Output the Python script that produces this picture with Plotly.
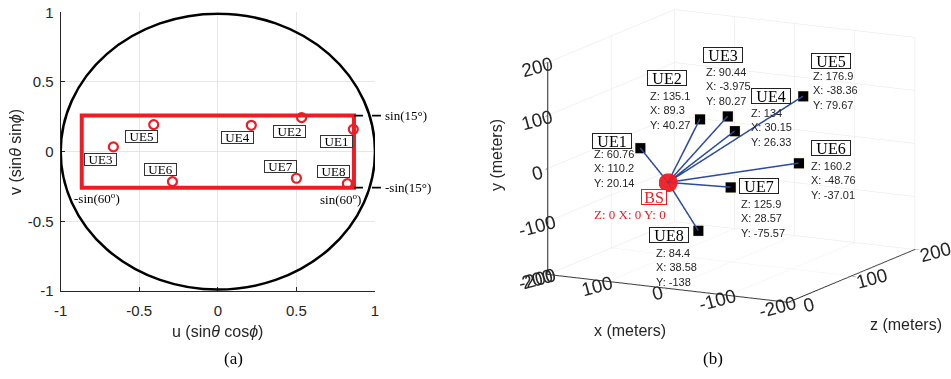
import math
import plotly.graph_objects as go

W, H = 951, 379

# ---------------- data: panel (a) ----------------
ue_names = ["UE1", "UE2", "UE3", "UE4", "UE5", "UE6", "UE7", "UE8"]
u_vals = [0.862, 0.533, -0.665, 0.213, -0.408, -0.289, 0.500, 0.824]
v_vals = [0.160, 0.244, 0.034, 0.189, 0.194, -0.215, -0.191, -0.230]
az_limit_deg = 60
el_limit_deg = 15
uv_ticks = [-1, -0.5, 0, 0.5, 1]
uv_ticktext = ["-1", "-0.5", "0", "0.5", "1"]

# ---------------- data: panel (b) ----------------
bs_xyz = (0, 0, 0)
ue_x = [110.2, 89.3, -3.975, 30.15, -38.36, -48.76, 28.57, 38.58]
ue_y = [20.14, 40.27, 80.27, 26.33, 79.67, -37.01, -75.57, -138]
ue_z = [60.76, 135.1, 90.44, 134, 176.9, 160.2, 125.9, 84.4]
xy_ticks = [-200, -100, 0, 100, 200]
xy_ticktext = ["-200", "-100", "0", "100", "200"]
z_ticks = [0, 100, 200]
z_ticktext = ["0", "100", "200"]

# ---------------- styles ----------------
SANS = "Liberation Sans"
SERIF = "Liberation Serif"
TXT = "#262626"
GRID = "#e6e6e6"
RED = "#ee1c24"
BLUE = "#2c4a9e"

# label offsets (pixels) for panel (a): label centre relative to point
a_lab_dx = [-17, -12, -13, -14, -12, -12, -16, -14]
a_lab_dy = [-12, -14, -13, -12, -12, 12, 12, 12]

# label offsets (pixels) for panel (b)
b_box_dx = [-28, -33, -4, 36, 28, 32, 29, -29]
b_box_dy = [7, 41, 61, 35, 35, 15, 1, -4]
b_txt_dx = [-48, -52, -23, 14, 8, 10, 9, -44]
b_txt_dy = [2, 31, 52, 26, 28, 5, -9, -14]

ax_x0, ax_x1 = 60.7 / W, 375 / W
ax_y0, ax_y1 = 1 - 291 / H, 1 - 12.3 / H


def px(xp, yp):
    return xp / W, 1 - yp / H


fig = go.Figure()

# ---- panel (a) ----
fig.add_trace(go.Scatter(
    x=u_vals, y=v_vals, mode="markers",
    marker=dict(symbol="circle-open", size=9, color=RED, line=dict(width=2.2, color=RED)),
    hoverinfo="skip", showlegend=False, xaxis="x", yaxis="y", cliponaxis=False))

s_az = math.sin(math.radians(az_limit_deg))
s_el = math.sin(math.radians(el_limit_deg))

shapes = [
    dict(type="circle", xref="x", yref="y", x0=-1, x1=1, y0=-0.99, y1=0.99,
         line=dict(color="black", width=2.5), layer="above"),
    dict(type="rect", xref="x", yref="y", x0=-s_az, x1=s_az, y0=-s_el, y1=s_el,
         line=dict(color=RED, width=4), layer="above"),
]


def u_to_paper(u):
    return ax_x0 + (u + 1) / 2 * (ax_x1 - ax_x0)


def v_to_paper(v):
    return ax_y0 + (v + 1) / 2 * (ax_y1 - ax_y0)


for sv in (s_el, -s_el):
    shapes.append(dict(type="line", xref="paper", yref="paper",
                       x0=u_to_paper(s_az), x1=381.5 / W,
                       y0=v_to_paper(sv), y1=v_to_paper(sv),
                       line=dict(color="black", width=1.8, dash="dash")))

annotations = []
for i, name in enumerate(ue_names):
    annotations.append(dict(
        x=u_vals[i], y=v_vals[i], xref="x", yref="y", text=name, showarrow=False,
        xanchor="center", yanchor="middle", width=31, height=11,
        xshift=a_lab_dx[i], yshift=a_lab_dy[i],
        font=dict(family=SERIF, size=13, color="black"),
        bgcolor="white", bordercolor="#333333", borderwidth=1, borderpad=0))


def txt(xp, yp, text, font, **kw):
    x, y = px(xp, yp)
    d = dict(x=x, y=y, xref="paper", yref="paper", text=text, showarrow=False,
             xanchor="center", yanchor="middle", font=font)
    d.update(kw)
    return d


serif13 = dict(family=SERIF, size=13, color="black")
sans16 = dict(family=SANS, size=16, color=TXT)
serif17 = dict(family=SERIF, size=17, color="black")

annotations += [
    dict(x=383 / W, y=v_to_paper(s_el), xref="paper", yref="paper", xanchor="left",
         yanchor="middle", text="sin(15°)", showarrow=False, font=serif13),
    dict(x=383 / W, y=v_to_paper(-s_el), xref="paper", yref="paper", xanchor="left",
         yanchor="middle", text="-sin(15°)", showarrow=False, font=serif13),
    dict(x=-0.771, y=-0.33, xref="x", yref="y", text="-sin(60<sup>o</sup>)", showarrow=False,
         xanchor="center", yanchor="middle", font=serif13),
    dict(x=0.781, y=-0.34, xref="x", yref="y", text="sin(60<sup>o</sup>)", showarrow=False,
         xanchor="center", yanchor="middle", font=serif13),
    txt(217.9, 331, "u (sin<i>θ</i> cos<i>ϕ</i>)", sans16),
    txt(15, 152, "v (sin<i>θ</i> sin<i>ϕ</i>)", sans16, textangle=-90),
    txt(233, 358, "(a)", serif17),
    txt(713, 358, "(b)", serif17),
    txt(496, 155, "y (meters)", sans16, textangle=-90),
    txt(630, 330, "x (meters)", sans16),
    txt(906, 324, "z (meters)", sans16),
]

# ---- panel (b) ----  plotly scene: X = data z, Y = data x, Z = data y
for i in range(len(ue_names)):
    fig.add_trace(go.Scatter3d(
        x=[bs_xyz[2], ue_z[i]], y=[bs_xyz[0], ue_x[i]], z=[bs_xyz[1], ue_y[i]],
        mode="lines", line=dict(color=BLUE, width=3),
        hoverinfo="skip", showlegend=False, scene="scene"))

fig.add_trace(go.Scatter3d(
    x=ue_z, y=ue_x, z=ue_y, mode="markers",
    marker=dict(symbol="square", size=5.5, color="black", line=dict(color="#efe6b8", width=1)),
    hoverinfo="skip", showlegend=False, scene="scene"))
fig.add_trace(go.Scatter3d(
    x=[bs_xyz[2]], y=[bs_xyz[0]], z=[bs_xyz[1]], mode="markers",
    marker=dict(symbol="circle", size=11, color=RED, opacity=0.95),
    hoverinfo="skip", showlegend=False, scene="scene"))

scene_ann = []
for i, name in enumerate(ue_names):
    scene_ann.append(dict(
        x=ue_z[i], y=ue_x[i], z=ue_y[i], text=name, showarrow=False,
        xanchor="center", yanchor="middle", width=38, height=14,
        xshift=b_box_dx[i], yshift=b_box_dy[i],
        font=dict(family=SERIF, size=16, color="black"),
        bgcolor="white", bordercolor="#222222", borderwidth=1, borderpad=0))
    scene_ann.append(dict(
        x=ue_z[i], y=ue_x[i], z=ue_y[i],
        text=f"Z: {ue_z[i]:g}<br>X: {ue_x[i]:g}<br>Y: {ue_y[i]:g}",
        showarrow=False, xanchor="left", yanchor="top", align="left",
        xshift=b_txt_dx[i], yshift=b_txt_dy[i],
        font=dict(family=SANS, size=11, color=TXT)))
scene_ann.append(dict(
    x=bs_xyz[2], y=bs_xyz[0], z=bs_xyz[1], text="BS", showarrow=False,
    xanchor="center", yanchor="middle", width=24, height=14,
    xshift=-14, yshift=-15, font=dict(family=SERIF, size=16, color=RED),
    bgcolor="white", bordercolor=RED, borderwidth=1, borderpad=0))
scene_ann.append(dict(
    x=bs_xyz[2], y=bs_xyz[0], z=bs_xyz[1],
    text=f"Z: {bs_xyz[2]} X: {bs_xyz[0]} Y: {bs_xyz[1]}", showarrow=False,
    xanchor="center", yanchor="middle",
    xshift=-38, yshift=-32, font=dict(family=SERIF, size=13, color=RED)))

axis3d = dict(showbackground=False, gridcolor=GRID, gridwidth=1, showline=True,
              linecolor=TXT, linewidth=2, zeroline=False, ticks="outside", ticklen=5,
              tickcolor=TXT, tickfont=dict(family=SANS, size=15, color=TXT),
              showspikes=False, title=dict(text=""), tickmode="array", tickangle=-15)

el = math.radians(12.7)
az = math.radians(207.8)
D = 1.6
SC = 1.434
cen = dict(x=-0.0205, y=0.039, z=-0.1815)
eye = dict(x=cen["x"] + D * math.cos(el) * math.cos(az),
           y=cen["y"] + D * math.cos(el) * math.sin(az),
           z=cen["z"] + D * math.sin(el))

cart_axis = dict(range=[-1, 1], tickmode="array", tickvals=uv_ticks,
                 ticktext=uv_ticktext, ticks="inside", ticklen=4, tickcolor=TXT,
                 showline=True, linecolor=TXT, linewidth=1, mirror=False, showgrid=True,
                 gridcolor=GRID, zeroline=False, tickfont=dict(family=SANS, size=15, color=TXT),
                 fixedrange=True, automargin=False)

fig.update_layout(
    width=W, height=H, margin=dict(l=0, r=0, t=0, b=0, pad=0, autoexpand=False),
    paper_bgcolor="white", plot_bgcolor="white",
    xaxis=dict(cart_axis, domain=[ax_x0, ax_x1], ticklabelstandoff=6),
    yaxis=dict(cart_axis, domain=[ax_y0, ax_y1], ticklabelstandoff=3),
    scene=dict(
        domain=dict(x=[0.52, 1.0], y=[0.0, 1.0]),
        xaxis=dict(axis3d, range=[0, 200], tickvals=z_ticks, ticktext=z_ticktext),
        yaxis=dict(axis3d, range=[-200, 200], tickvals=xy_ticks, ticktext=xy_ticktext),
        zaxis=dict(axis3d, range=[-200, 200], tickvals=xy_ticks, ticktext=xy_ticktext),
        aspectmode="manual", aspectratio=dict(x=SC, y=SC, z=0.8 * SC),
        camera=dict(eye=eye, center=cen, up=dict(x=0, y=0, z=1),
                    projection=dict(type="orthographic")),
        annotations=scene_ann,
    ),
    shapes=shapes, annotations=annotations, showlegend=False,
)

fig.write_html("out.html")
